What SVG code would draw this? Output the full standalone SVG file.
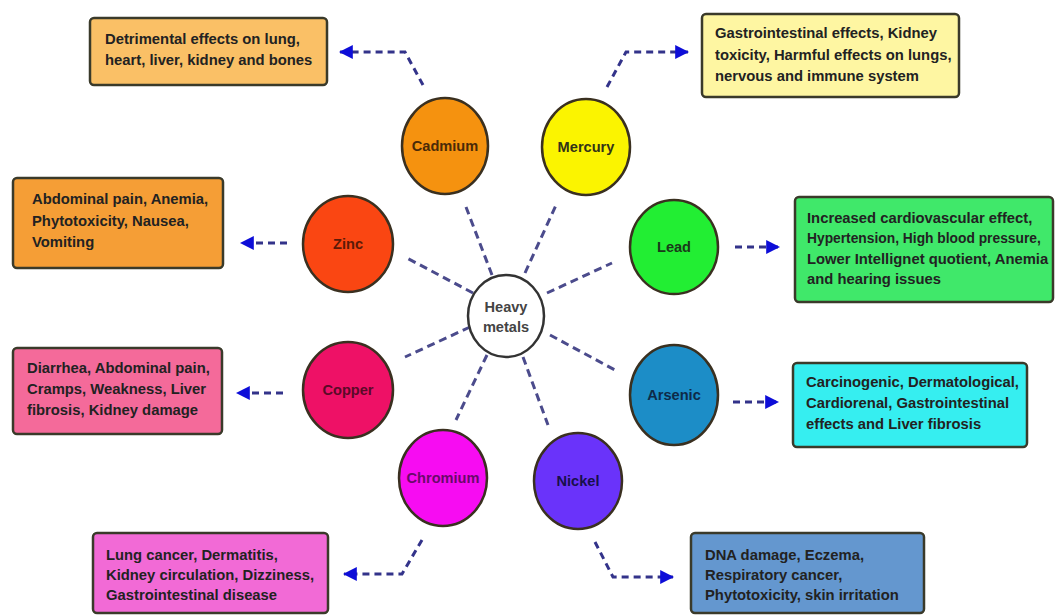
<svg xmlns="http://www.w3.org/2000/svg" width="1055" height="615" viewBox="0 0 1055 615">
<defs>
<marker id="ah" viewBox="0 0 12 12" refX="11" refY="6" markerWidth="14" markerHeight="14" markerUnits="userSpaceOnUse" orient="auto">
<path d="M0,0 L12,6 L0,12 z" fill="#0d0dd8"/>
</marker>
<style>
.box{stroke:#3a3a2a;stroke-width:2.5}
.bt{font-family:"Liberation Sans",Arial,sans-serif;font-weight:bold;font-size:14.8px;fill:#222222}
.ct{font-family:"Liberation Sans",Arial,sans-serif;font-weight:bold;font-size:14.6px;text-anchor:middle}
.circ{stroke:#3a3020;stroke-width:2.5}
.spoke{fill:none;stroke:#4b4b8c;stroke-width:3;stroke-dasharray:8 5}
.arr{fill:none;stroke:#33338a;stroke-width:3;stroke-dasharray:7 5;marker-end:url(#ah)}
</style>
</defs>
<rect width="1055" height="615" fill="#ffffff"/>
<g id="connectors">
<line class="spoke" x1="492" y1="275" x2="466" y2="207"/>
<line class="spoke" x1="525" y1="273" x2="557" y2="203"/>
<line class="spoke" x1="473" y1="293" x2="405" y2="257"/>
<line class="spoke" x1="547" y1="293" x2="612" y2="263"/>
<line class="spoke" x1="470" y1="327" x2="405" y2="357"/>
<line class="spoke" x1="550" y1="335" x2="615" y2="370"/>
<line class="spoke" x1="487" y1="355" x2="456" y2="420"/>
<line class="spoke" x1="523" y1="357" x2="548" y2="425"/>
<polyline class="arr" points="423,85 405,52 340,52"/>
<polyline class="arr" points="607,87 626,52 688,52"/>
<polyline class="arr" points="287,243 241,243"/>
<polyline class="arr" points="283,393 237,393"/>
<polyline class="arr" points="735,247 779,247"/>
<polyline class="arr" points="733,402 778,402"/>
<polyline class="arr" points="422,540 402,574 344,574"/>
<polyline class="arr" points="595,542 613,577 673,577"/>
</g>
<g id="center">
<ellipse cx="506" cy="316" rx="38" ry="41" fill="#ffffff" stroke="#333" stroke-width="2.5"/>
<text class="ct" x="506" y="312" fill="#444">Heavy</text>
<text class="ct" x="506" y="332" fill="#444">metals</text>
</g>
<g id="cadmium">
<ellipse class="circ" cx="445" cy="146" rx="43" ry="48" fill="#f5920f"/>
<text class="ct" x="445" y="151" fill="#4a2a08">Cadmium</text>
</g>
<g id="mercury">
<ellipse class="circ" cx="586" cy="147" rx="44" ry="48" fill="#fbf400"/>
<text class="ct" x="586" y="152" fill="#333318">Mercury</text>
</g>
<g id="zinc">
<ellipse class="circ" cx="348" cy="244" rx="45" ry="48" fill="#fa4612"/>
<text class="ct" x="348" y="249" fill="#5a1a08">Zinc</text>
</g>
<g id="lead">
<ellipse class="circ" cx="674" cy="247" rx="44" ry="47" fill="#22ee33"/>
<text class="ct" x="674" y="252" fill="#1a3a1a">Lead</text>
</g>
<g id="copper">
<ellipse class="circ" cx="348" cy="390" rx="45" ry="48" fill="#ee1166"/>
<text class="ct" x="348" y="395" fill="#5a0a28">Copper</text>
</g>
<g id="arsenic">
<ellipse class="circ" cx="674" cy="395" rx="44" ry="50" fill="#1c8dc7"/>
<text class="ct" x="674" y="400" fill="#0e2a48">Arsenic</text>
</g>
<g id="chromium">
<ellipse class="circ" cx="443" cy="478" rx="44" ry="48" fill="#f70cf2"/>
<text class="ct" x="443" y="483" fill="#6a0a6a">Chromium</text>
</g>
<g id="nickel">
<ellipse class="circ" cx="578" cy="481" rx="44" ry="48" fill="#6a33fa"/>
<text class="ct" x="578" y="486" fill="#18104a">Nickel</text>
</g>
<g id="box-cadmium">
<rect class="box" x="90" y="18" width="237" height="67" rx="4" fill="#fac066"/>
<text class="bt" x="105" y="44">Detrimental effects on lung,</text>
<text class="bt" x="105" y="65">heart, liver, kidney and bones</text>
</g>
<g id="box-mercury">
<rect class="box" x="702" y="14" width="257" height="83" rx="4" fill="#fef6a2"/>
<text class="bt" x="715" y="38">Gastrointestinal effects, Kidney</text>
<text class="bt" x="715" y="60">toxicity, Harmful effects on lungs,</text>
<text class="bt" x="715" y="81">nervous and immune system</text>
</g>
<g id="box-zinc">
<rect class="box" x="13" y="178" width="210" height="90" rx="4" fill="#f59e36"/>
<text class="bt" x="32" y="204">Abdominal pain, Anemia,</text>
<text class="bt" x="32" y="226">Phytotoxicity, Nausea,</text>
<text class="bt" x="32" y="247">Vomiting</text>
</g>
<g id="box-lead">
<rect class="box" x="795" y="197" width="258" height="105" rx="4" fill="#40e86a"/>
<text class="bt" x="807" y="223">Increased cardiovascular effect,</text>
<text class="bt" x="807" y="243" style="font-size:13.8px">Hypertension, High blood pressure,</text>
<text class="bt" x="807" y="264">Lower Intellignet quotient, Anemia</text>
<text class="bt" x="807" y="284">and hearing issues</text>
</g>
<g id="box-copper">
<rect class="box" x="13" y="348" width="209" height="86" rx="4" fill="#f46a9a"/>
<text class="bt" x="27" y="373">Diarrhea, Abdominal pain,</text>
<text class="bt" x="27" y="394">Cramps, Weakness, Liver</text>
<text class="bt" x="27" y="415">fibrosis, Kidney damage</text>
</g>
<g id="box-arsenic">
<rect class="box" x="793" y="363" width="234" height="84" rx="4" fill="#36eef0"/>
<text class="bt" x="806" y="387">Carcinogenic, Dermatological,</text>
<text class="bt" x="806" y="408">Cardiorenal, Gastrointestinal</text>
<text class="bt" x="806" y="429">effects and Liver fibrosis</text>
</g>
<g id="box-chromium">
<rect class="box" x="93" y="533" width="235" height="80" rx="4" fill="#f26ad6"/>
<text class="bt" x="106" y="560">Lung cancer, Dermatitis,</text>
<text class="bt" x="106" y="580">Kidney circulation, Dizziness,</text>
<text class="bt" x="106" y="600">Gastrointestinal disease</text>
</g>
<g id="box-nickel">
<rect class="box" x="691" y="533" width="233" height="80" rx="4" fill="#6497cf"/>
<text class="bt" x="705" y="560">DNA damage, Eczema,</text>
<text class="bt" x="705" y="580">Respiratory cancer,</text>
<text class="bt" x="705" y="600">Phytotoxicity, skin irritation</text>
</g>
</svg>
